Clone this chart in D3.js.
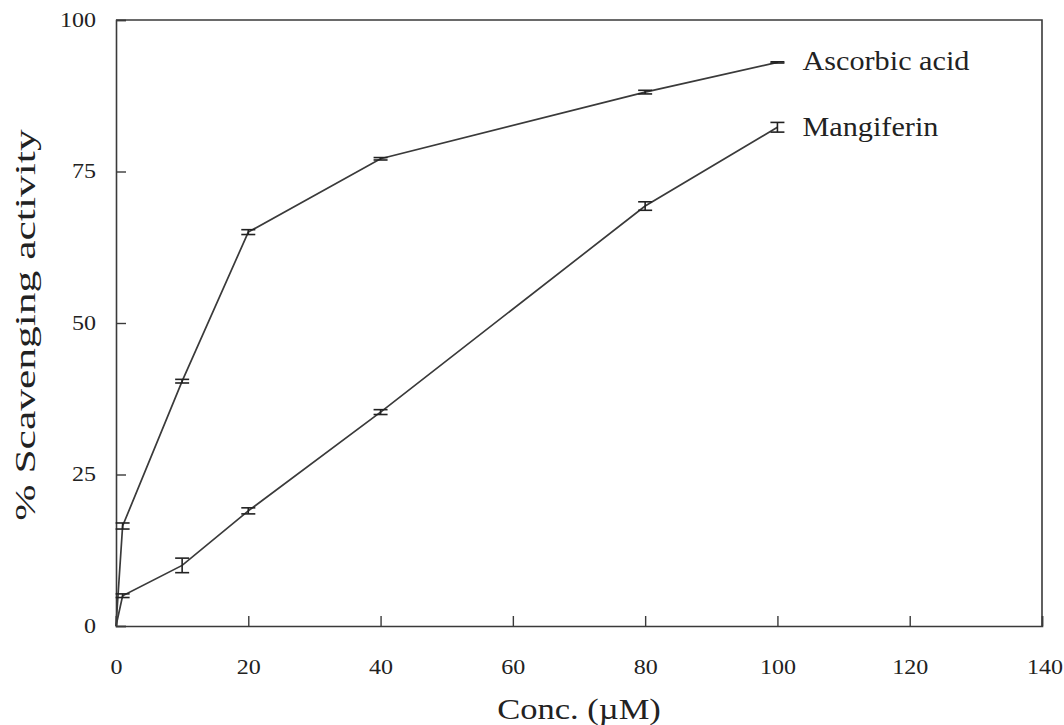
<!DOCTYPE html>
<html>
<head>
<meta charset="UTF-8">
<title>Scavenging activity</title>
<script src="https://cdn.jsdelivr.net/npm/d3@7"></script>
<style>
  body { margin: 0; background: #fff; }
  text { font-family: "Liberation Serif", "Times New Roman", serif; fill: #222; }
</style>
</head>
<body>
<div id="chart"></div>
<script>

// data
var conc = [0, 1, 10, 20, 40, 80, 100]

var ascorbic    = [0, 16.5, 40.4, 65.0, 77.1, 88.1, 93.0]
var ascorbicErr = [0, 0.5, 0.3, 0.4, 0.2, 0.3, 0.1]

var mangiferin    = [0, 5.0, 10.0, 19.0, 35.3, 69.3, 82.3]
var mangiferinErr = [0, 0.3, 1.2, 0.5, 0.4, 0.7, 0.8]

var xTicks = [0, 20, 40, 60, 80, 100, 120, 140]
var yTicks = [0, 25, 50, 75, 100]

var seriesNames = ["Ascorbic acid", "Mangiferin"]

// layout (avoid window.top clash)
var width = 1064, height = 725
var plotL = 116, plotR = 1042, plotT = 20, plotB = 626
var ink = "#3a3a3a"
// the source figure is stretched a little, so text gets a horizontal stretch too
var stretch = 1.2

var x = d3.scaleLinear().domain([0, 140]).range([plotL, plotR])
var y = d3.scaleLinear().domain([0, 100]).range([plotB, plotT])

var svg = d3.select("#chart").append("svg")
  .attr("width", width)
  .attr("height", height)

// frame: top and right edges
svg.append("path")
  .attr("d", "M" + plotL + "," + plotT + "H" + plotR + "V" + plotB)
  .attr("fill", "none")
  .attr("stroke", ink)
  .attr("stroke-width", 1.6)

// axes with inward ticks
var xAxis = svg.append("g")
  .attr("transform", "translate(0," + plotB + ")")
  .call(d3.axisBottom(x).tickValues(xTicks).tickSize(-10).tickPadding(30))
var yAxis = svg.append("g")
  .attr("transform", "translate(" + plotL + ",0)")
  .call(d3.axisLeft(y).tickValues(yTicks).tickSize(-10).tickPadding(20))

;[xAxis, yAxis].forEach(function(a) {
  a.attr("font-size", 20).attr("font-family", "'Liberation Serif', serif")
  a.select(".domain").attr("stroke", ink).attr("stroke-width", 1.6)
  a.selectAll(".tick line").attr("stroke", ink).attr("stroke-width", 1.4)
  a.selectAll(".tick text").attr("fill", "#222")
    .attr("transform", "scale(" + stretch + ",1)")
})
xAxis.selectAll(".tick text").attr("dy", "0.32em").attr("y", 42)
xAxis.selectAll(".tick text").filter(function(d) { return d === 140 }).attr("dx", 2)
yAxis.selectAll(".tick text").attr("x", -20 / stretch)

// axis titles
svg.append("text")
  .attr("transform", "translate(" + (plotL + plotR) / 2 + ",719) scale(1.15,1)")
  .attr("text-anchor", "middle")
  .style("font-size", "30px")
  .text("Conc. (\u00b5M)")

svg.append("text")
  .attr("transform", "translate(35," + 325 + ") rotate(-90) scale(1.45,1)")
  .attr("text-anchor", "middle")
  .style("font-size", "30px")
  .text("% Scavenging activity")

// lines and error bars
var line = d3.line()
  .x(function(d) { return x(d.c) })
  .y(function(d) { return y(d.v) })

function drawSeries(vals, errs) {
  var pts = conc.map(function(c, i) { return { c: c, v: vals[i], e: errs[i] } })

  svg.append("path")
    .datum(pts)
    .attr("d", line)
    .attr("fill", "none")
    .attr("stroke", ink)
    .attr("stroke-width", 1.7)

  var bars = svg.append("g").selectAll("g")
    .data(pts.filter(function(d) { return d.c > 0 }))
    .enter().append("g")
    .attr("stroke", "#222")
    .attr("stroke-width", 1.6)

  bars.append("line")
    .attr("x1", function(d) { return x(d.c) })
    .attr("x2", function(d) { return x(d.c) })
    .attr("y1", function(d) { return y(d.v - d.e) })
    .attr("y2", function(d) { return y(d.v + d.e) })

  ;[1, -1].forEach(function(s) {
    bars.append("line")
      .attr("x1", function(d) { return x(d.c) - 7 })
      .attr("x2", function(d) { return x(d.c) + 7 })
      .attr("y1", function(d) { return y(d.v + s * d.e) })
      .attr("y2", function(d) { return y(d.v + s * d.e) })
  })

  return pts[pts.length - 1]
}

var endA = drawSeries(ascorbic, ascorbicErr)
var endM = drawSeries(mangiferin, mangiferinErr)

// end labels
svg.append("text")
  .attr("transform", "translate(" + (x(endA.c) + 25) + "," + (y(endA.v) + 8) + ") scale(1.12,1)")
  .style("font-size", "27px")
  .text(seriesNames[0])

svg.append("text")
  .attr("transform", "translate(" + (x(endM.c) + 25) + "," + (y(endM.v) + 9) + ") scale(1.12,1)")
  .style("font-size", "27px")
  .text(seriesNames[1])

</script>
</body>
</html>
